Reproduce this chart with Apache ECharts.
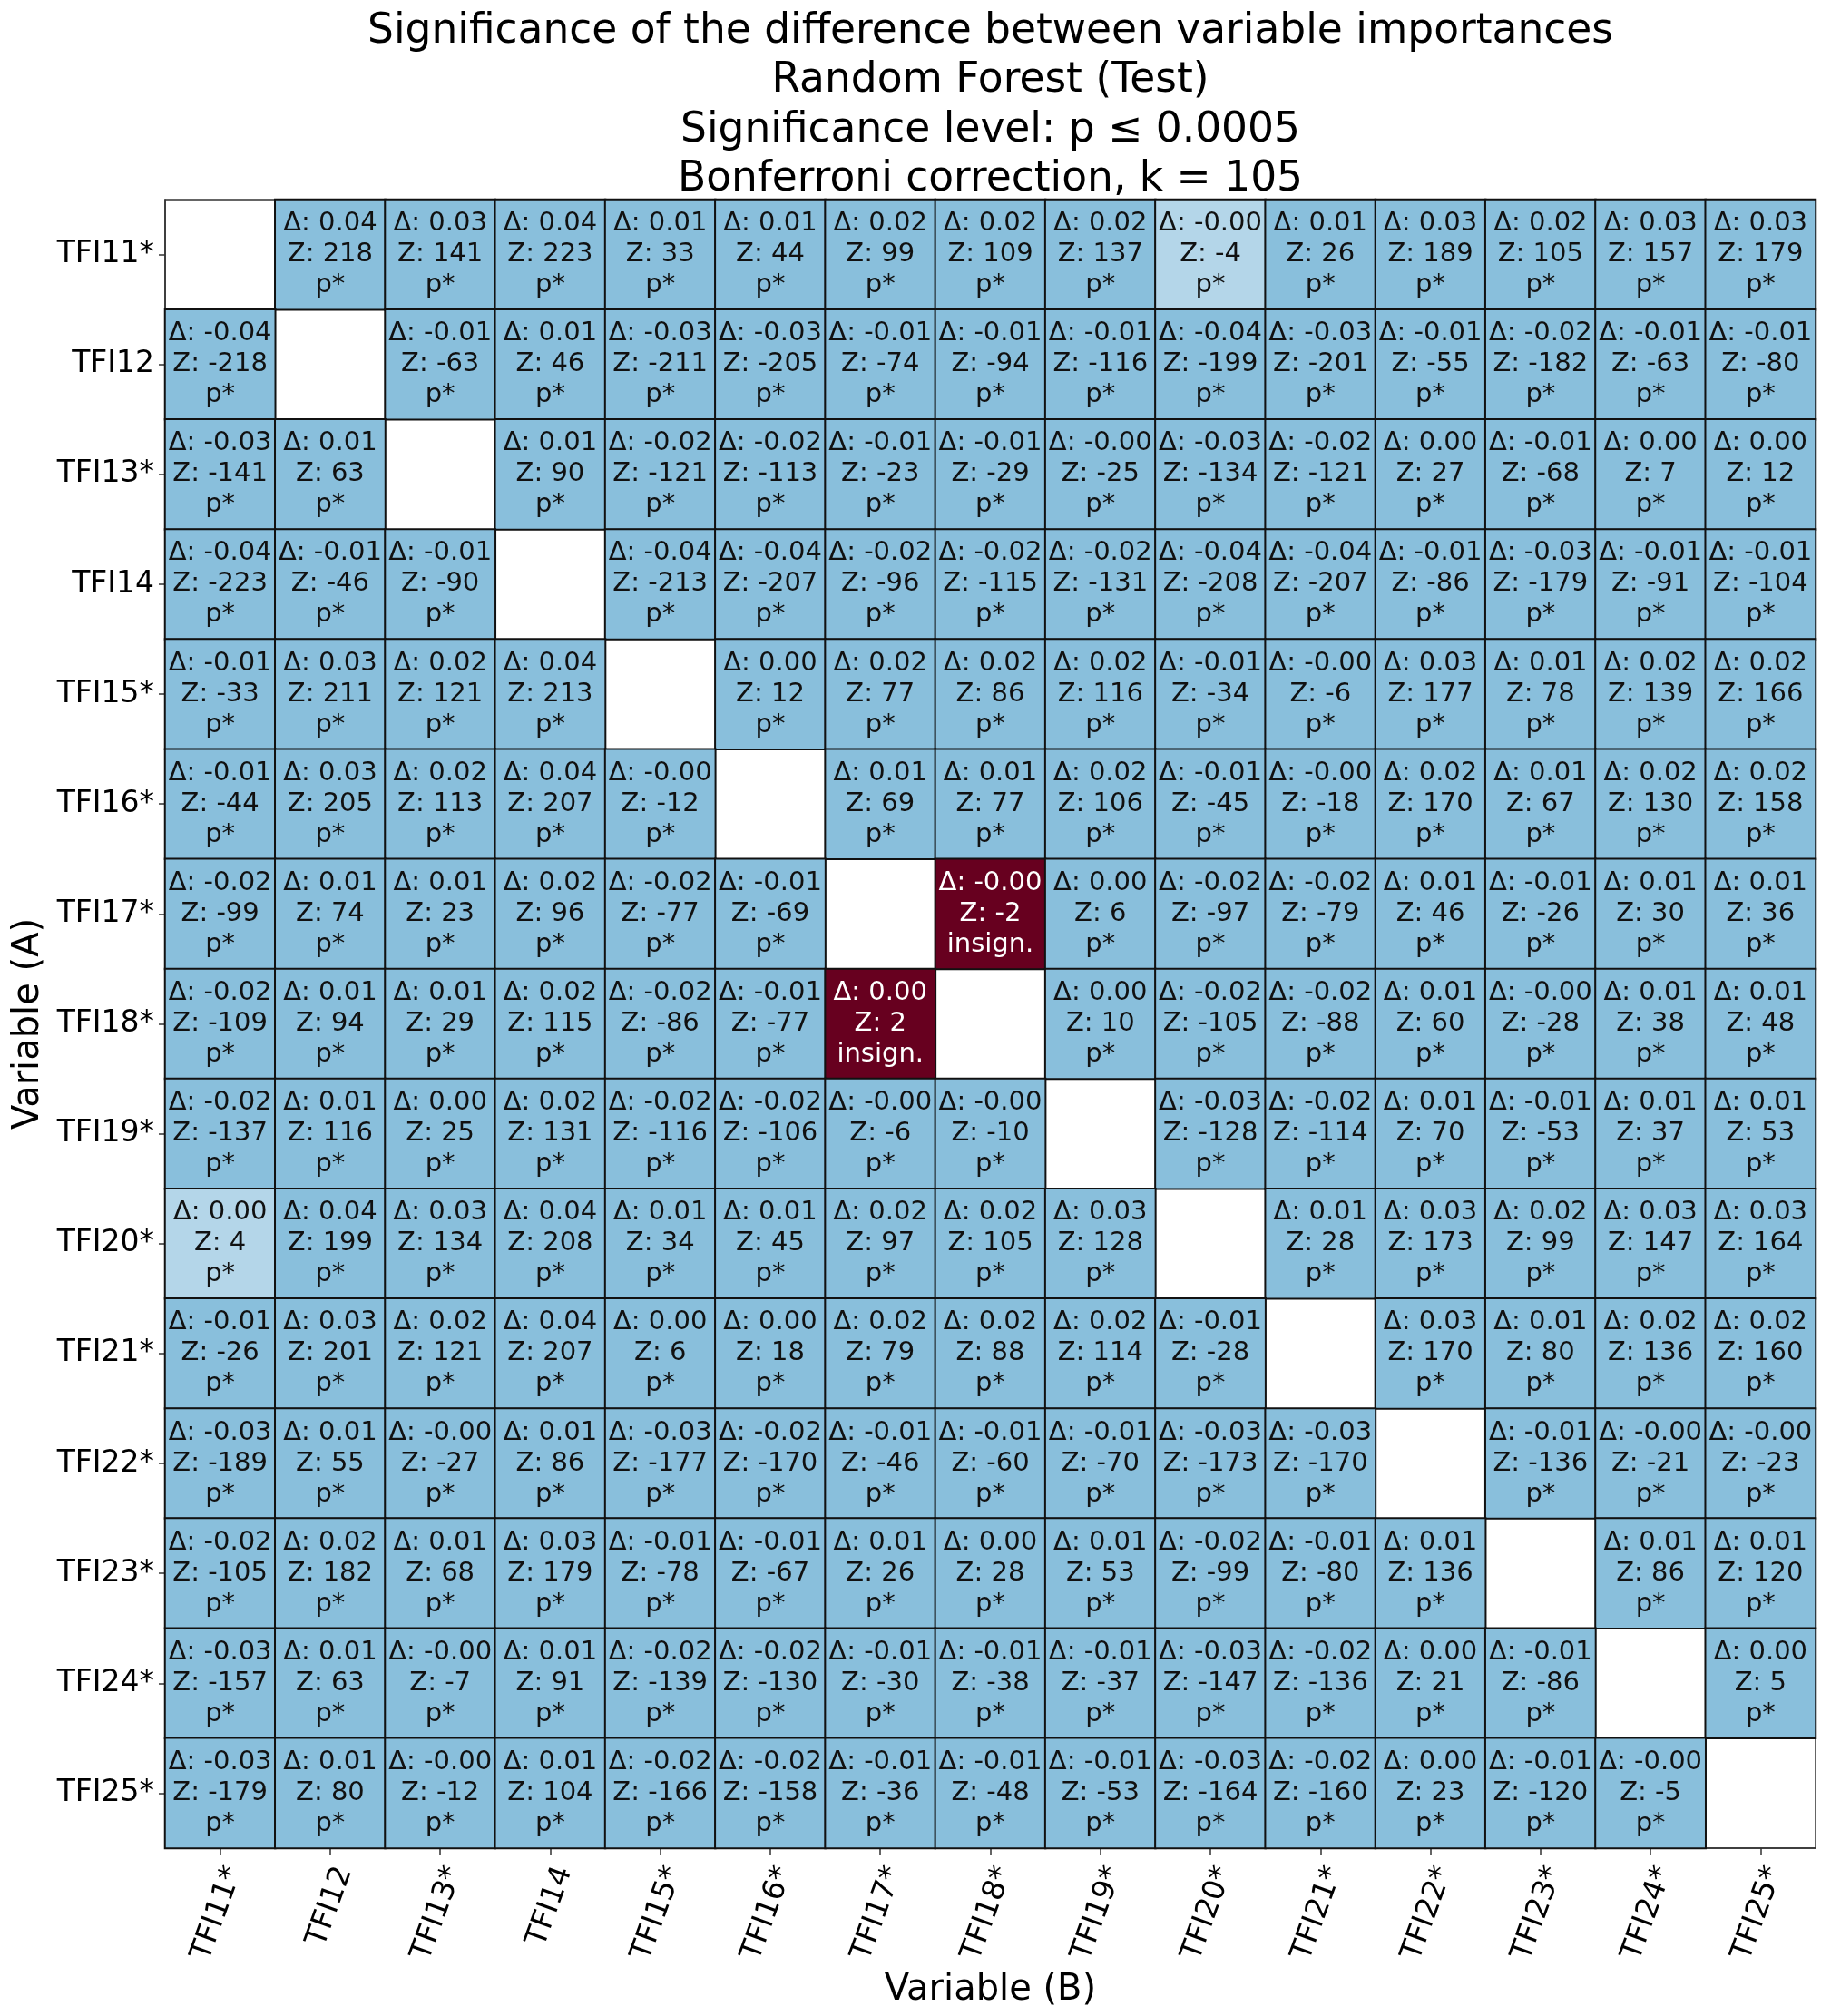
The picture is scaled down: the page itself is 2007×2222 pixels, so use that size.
<!DOCTYPE html>
<html>
<head>
<meta charset="utf-8">
<title>Significance of the difference between variable importances</title>
<script src="https://cdn.jsdelivr.net/npm/echarts@6/dist/echarts.min.js"></script>
<style>
  html, body { margin: 0; padding: 0; background: #ffffff; }
  #chart { width: 2007px; height: 2222px; }
</style>
</head>
<body>
<div id="chart"></div>
<script>
// Variables compared (rows = A, columns = B)
const rowLabels = ['TFI11*', 'TFI12', 'TFI13*', 'TFI14', 'TFI15*', 'TFI16*', 'TFI17*', 'TFI18*',
                   'TFI19*', 'TFI20*', 'TFI21*', 'TFI22*', 'TFI23*', 'TFI24*', 'TFI25*'];
const colLabels = rowLabels.slice();

// Difference in importance (A - B), two decimals; null on the diagonal
const deltaRows = [
  [null, 0.04, 0.03, 0.04, 0.01, 0.01, 0.02, 0.02, 0.02, -0.00, 0.01, 0.03, 0.02, 0.03, 0.03],
  [-0.04, null, -0.01, 0.01, -0.03, -0.03, -0.01, -0.01, -0.01, -0.04, -0.03, -0.01, -0.02, -0.01, -0.01],
  [-0.03, 0.01, null, 0.01, -0.02, -0.02, -0.01, -0.01, -0.00, -0.03, -0.02, 0.00, -0.01, 0.00, 0.00],
  [-0.04, -0.01, -0.01, null, -0.04, -0.04, -0.02, -0.02, -0.02, -0.04, -0.04, -0.01, -0.03, -0.01, -0.01],
  [-0.01, 0.03, 0.02, 0.04, null, 0.00, 0.02, 0.02, 0.02, -0.01, -0.00, 0.03, 0.01, 0.02, 0.02],
  [-0.01, 0.03, 0.02, 0.04, -0.00, null, 0.01, 0.01, 0.02, -0.01, -0.00, 0.02, 0.01, 0.02, 0.02],
  [-0.02, 0.01, 0.01, 0.02, -0.02, -0.01, null, -0.00, 0.00, -0.02, -0.02, 0.01, -0.01, 0.01, 0.01],
  [-0.02, 0.01, 0.01, 0.02, -0.02, -0.01, 0.00, null, 0.00, -0.02, -0.02, 0.01, -0.00, 0.01, 0.01],
  [-0.02, 0.01, 0.00, 0.02, -0.02, -0.02, -0.00, -0.00, null, -0.03, -0.02, 0.01, -0.01, 0.01, 0.01],
  [0.00, 0.04, 0.03, 0.04, 0.01, 0.01, 0.02, 0.02, 0.03, null, 0.01, 0.03, 0.02, 0.03, 0.03],
  [-0.01, 0.03, 0.02, 0.04, 0.00, 0.00, 0.02, 0.02, 0.02, -0.01, null, 0.03, 0.01, 0.02, 0.02],
  [-0.03, 0.01, -0.00, 0.01, -0.03, -0.02, -0.01, -0.01, -0.01, -0.03, -0.03, null, -0.01, -0.00, -0.00],
  [-0.02, 0.02, 0.01, 0.03, -0.01, -0.01, 0.01, 0.00, 0.01, -0.02, -0.01, 0.01, null, 0.01, 0.01],
  [-0.03, 0.01, -0.00, 0.01, -0.02, -0.02, -0.01, -0.01, -0.01, -0.03, -0.02, 0.00, -0.01, null, 0.00],
  [-0.03, 0.01, -0.00, 0.01, -0.02, -0.02, -0.01, -0.01, -0.01, -0.03, -0.02, 0.00, -0.01, -0.00, null]
];

// Z statistic of each pairwise test; null on the diagonal
const zRows = [
  [null, 218, 141, 223, 33, 44, 99, 109, 137, -4, 26, 189, 105, 157, 179],
  [-218, null, -63, 46, -211, -205, -74, -94, -116, -199, -201, -55, -182, -63, -80],
  [-141, 63, null, 90, -121, -113, -23, -29, -25, -134, -121, 27, -68, 7, 12],
  [-223, -46, -90, null, -213, -207, -96, -115, -131, -208, -207, -86, -179, -91, -104],
  [-33, 211, 121, 213, null, 12, 77, 86, 116, -34, -6, 177, 78, 139, 166],
  [-44, 205, 113, 207, -12, null, 69, 77, 106, -45, -18, 170, 67, 130, 158],
  [-99, 74, 23, 96, -77, -69, null, -2, 6, -97, -79, 46, -26, 30, 36],
  [-109, 94, 29, 115, -86, -77, 2, null, 10, -105, -88, 60, -28, 38, 48],
  [-137, 116, 25, 131, -116, -106, -6, -10, null, -128, -114, 70, -53, 37, 53],
  [4, 199, 134, 208, 34, 45, 97, 105, 128, null, 28, 173, 99, 147, 164],
  [-26, 201, 121, 207, 6, 18, 79, 88, 114, -28, null, 170, 80, 136, 160],
  [-189, 55, -27, 86, -177, -170, -46, -60, -70, -173, -170, null, -136, -21, -23],
  [-105, 182, 68, 179, -78, -67, 26, 28, 53, -99, -80, 136, null, 86, 120],
  [-157, 63, -7, 91, -139, -130, -30, -38, -37, -147, -136, 21, -86, null, 5],
  [-179, 80, -12, 104, -166, -158, -36, -48, -53, -164, -160, 23, -120, -5, null]
];

// Title lines
const titleLines = [
  'Significance of the difference between variable importances',
  'Random Forest (Test)',
  'Significance level: p \u2264 0.0005',
  'Bonferroni correction, k = 105'
];

// Two-sided critical |Z| for p <= 0.0005, and the |Z| above which p is effectively 0
const zCritical = 3.48;
const zSaturated = 4.5;

const FONT = '"DejaVu Sans", "Liberation Sans", sans-serif';
const BLUE = '#89bfdc';
const PALE = '#b4d6e9';
const RED = '#67001f';

const grid = { left: 182, top: 220, width: 1819, height: 1817 };

// Heatmap cells: [column, row, Z]; label text from delta, Z and significance
const cells = [];
zRows.forEach((row, r) => {
  row.forEach((z, c) => {
    if (z === null) return;
    const d = deltaRows[r][c];
    const sig = Math.abs(z) >= zCritical;
    const dTxt = (z < 0 ? '-' : '') + Math.abs(d).toFixed(2);
    cells.push({
      value: [c, r, z],
      label: {
        formatter: '\u0394: ' + dTxt + '\nZ: ' + z + '\n' + (sig ? 'p*' : 'insign.'),
        color: sig ? '#111111' : '#ffffff'
      }
    });
  });
});

const chart = echarts.init(document.getElementById('chart'), null, { renderer: 'canvas' });

const cx = grid.left + grid.width / 2;
const titleGraphics = titleLines.map((t, i) => ({
  type: 'text',
  x: cx,
  y: 35 + i * 54.5,
  style: {
    text: t,
    fill: '#000000',
    font: '45.5px ' + FONT,
    textAlign: 'center',
    textVerticalAlign: 'middle'
  }
}));

chart.setOption({
  backgroundColor: '#ffffff',
  animation: false,
  textStyle: { fontFamily: FONT },
  graphic: titleGraphics,
  grid: {
    left: grid.left, top: grid.top, width: grid.width, height: grid.height,
    show: true, borderColor: '#333333', borderWidth: 1.5, backgroundColor: 'transparent'
  },
  xAxis: {
    type: 'category',
    data: colLabels,
    position: 'bottom',
    name: 'Variable (B)',
    nameLocation: 'middle',
    nameGap: 137,
    nameTextStyle: { fontSize: 40, color: '#000', fontFamily: FONT },
    axisLine: { show: true, lineStyle: { color: '#333', width: 1.5 } },
    axisTick: { show: true, alignWithLabel: true, length: 7, lineStyle: { color: '#333', width: 1.5 } },
    axisLabel: { rotate: 70, fontSize: 33, color: '#000', margin: 16, verticalAlign: 'top', fontFamily: FONT },
    splitLine: { show: false },
    splitArea: { show: false }
  },
  yAxis: {
    type: 'category',
    data: rowLabels,
    inverse: true,
    name: 'Variable (A)',
    nameLocation: 'middle',
    nameGap: 118,
    nameTextStyle: { fontSize: 40, color: '#000', fontFamily: FONT },
    axisLine: { show: true, lineStyle: { color: '#333', width: 1.5 } },
    axisTick: { show: true, alignWithLabel: true, length: 7, lineStyle: { color: '#333', width: 1.5 } },
    axisLabel: { fontSize: 33, color: '#000', margin: 12, fontFamily: FONT },
    splitLine: { show: false },
    splitArea: { show: false }
  },
  visualMap: {
    type: 'piecewise',
    show: false,
    dimension: 2,
    pieces: [
      { lt: -zSaturated, color: BLUE },
      { gte: -zSaturated, lt: -zCritical, color: PALE },
      { gte: -zCritical, lte: zCritical, color: RED },
      { gt: zCritical, lte: zSaturated, color: PALE },
      { gt: zSaturated, color: BLUE }
    ]
  },
  series: [{
    type: 'heatmap',
    data: cells,
    itemStyle: { borderColor: '#111111', borderWidth: 2 },
    label: {
      show: true,
      fontSize: 29,
      lineHeight: 34,
      fontFamily: FONT,
      align: 'center',
      verticalAlign: 'middle'
    },
    emphasis: { disabled: true }
  }]
});
</script>
</body>
</html>
